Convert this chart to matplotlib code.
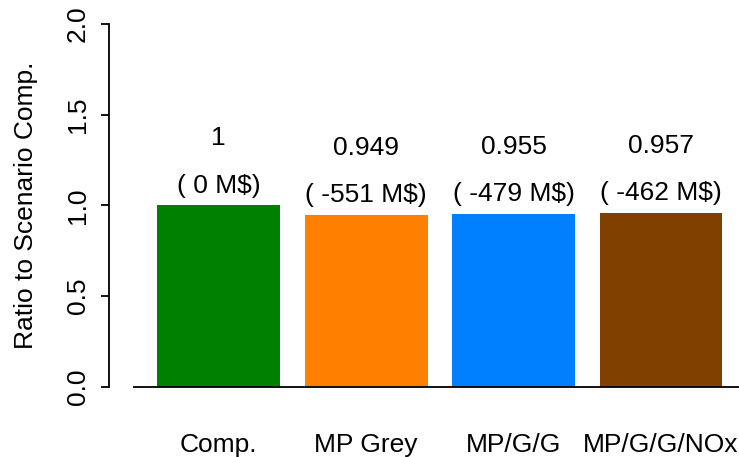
import matplotlib
matplotlib.use("Agg")
import matplotlib.pyplot as plt

plt.rcParams['font.family'] = ['Liberation Sans', 'DejaVu Sans']

# Scenario cost ratios relative to the comparison scenario
scenarios = ["Comp.", "MP Grey", "MP/G/G", "MP/G/G/NOx"]
ratios = [1.0, 0.949, 0.955, 0.957]
ratio_labels = ["1", "0.949", "0.955", "0.957"]
cost_diff_musd = [0, -551, -479, -462]
colors = ["#008000", "#FF8000", "#0080FF", "#804000"]

W, H = 739, 457
FS = 19
fig = plt.figure(figsize=(W / 100, H / 100), dpi=100)
ax = fig.add_axes([109 / W, (H - 401.5) / H, 637 / W, 392 / H])

width = 1.0
space = 0.2
centers = [space + width / 2 + i * (width + space) for i in range(len(scenarios))]

ax.bar(centers, ratios, width=width, color=colors, edgecolor="none")

# value annotations above each bar
for x, r, lab, d in zip(centers, ratios, ratio_labels, cost_diff_musd):
    ax.text(x, r + 0.37, lab, ha="center", va="center", fontsize=FS)
    ax.text(x, r + 0.11, f"( {d} M$)", ha="center", va="center", fontsize=FS)

# baseline under the bars
ax.hlines(0, 0, 6, colors="black", lw=1.3, clip_on=True)

ax.set_xlim(-0.192, 4.992)
ax.set_ylim(-0.08, 2.08)

for s in ["top", "right", "bottom"]:
    ax.spines[s].set_visible(False)
ax.spines["left"].set_bounds(0, 2)
ax.spines["left"].set_linewidth(1.3)

ax.set_yticks([0, 0.5, 1.0, 1.5, 2.0])
ax.set_yticklabels(["0.0", "0.5", "1.0", "1.5", "2.0"], rotation=90, va="center")
ax.tick_params(axis="y", length=6, width=1.3, pad=8, labelsize=FS)

ax.set_xticks(centers)
ax.set_xticklabels(scenarios)
ax.tick_params(axis="x", length=0, pad=23, labelsize=FS)

ax.set_ylabel("Ratio to Scenario Comp.", fontsize=FS)
ax.yaxis.set_label_coords(-71 / 637, 0.5, transform=ax.transAxes)

fig.savefig("out.png", dpi=100)
